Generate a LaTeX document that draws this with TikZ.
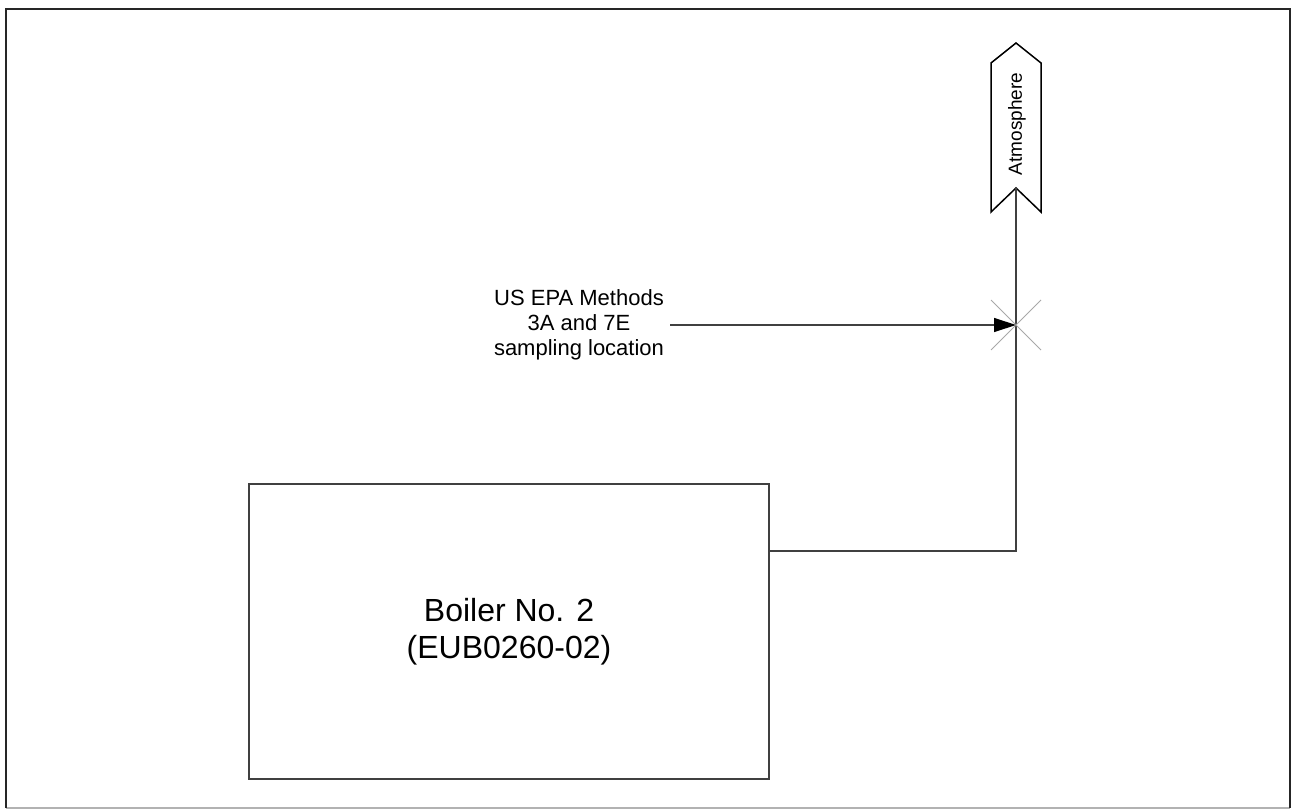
\documentclass[tikz,border=0pt]{standalone}
\usepackage{fontspec}
\setmainfont{Liberation Sans}
\usetikzlibrary{arrows.meta,calc}
\definecolor{ln}{HTML}{404040}
\definecolor{xg}{HTML}{A8A8A8}
\tikzset{
  pipe/.style={draw=ln,line width=1.4pt},
  boxst/.style={draw=ln,line width=1.5pt,minimum width=520pt,minimum height=295pt,inner sep=0pt,align=center,font=\fontsize{32}{37}\selectfont},
  lbl/.style={align=center,font=\fontsize{22}{25}\selectfont,inner sep=0pt},
  xmark/.style={draw=xg,line width=0.9pt},
}
\begin{document}
\begin{tikzpicture}[x=1pt,y=-1pt]
\useasboundingbox (0,0) rectangle (1292,810);
% frame
\draw[draw=gray!60,line width=1.2pt] (6,808) -- (1290,808);
\draw[draw=black!85,line width=2.2pt] (6,808) -- (6,9) -- (1290,9) -- (1290,808);
% boiler
\node[boxst] (boiler) at (509,631.5) {Boiler No. 2\\(EUB0260-02)};
% atmosphere
\draw[draw=black,line width=1.5pt,fill=white] (991,63) -- (1016,43) -- (1041,63) -- (1041,212) -- (1016,188) -- (991,212) -- cycle;
\node[rotate=90,font=\fontsize{19}{22}\selectfont,inner sep=0pt] (atm) at (1017,124) {Atmosphere};
\coordinate (atmin) at (1016,188);
\coordinate (bout) at (boiler.east |- 0,551);
\coordinate (corner) at (1016,551);
\coordinate (sx) at (1016,325);
% stack
\draw[pipe] (bout) -- (corner) -- (sx) -- (atmin);
% sampling X
\draw[xmark] ($(sx)+(-25,-25)$) -- ($(sx)+(25,25)$);
\draw[xmark] ($(sx)+(25,-25)$) -- ($(sx)+(-25,25)$);
% label and arrow
\node[lbl] (samp) at (579,325) {US EPA Methods\\3A and 7E\\sampling location};
\draw[pipe,line width=1.2pt,-{Triangle[length=22pt,width=14pt,color=black]}] (670,325) -- (sx);
\end{tikzpicture}
\end{document}
